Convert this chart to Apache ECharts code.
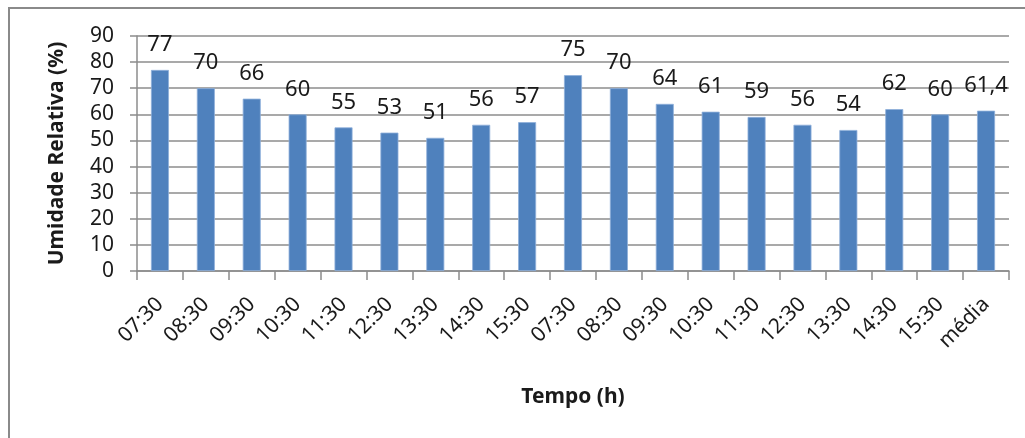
<!DOCTYPE html>
<html>
<head>
<meta charset="utf-8">
<script src="https://cdn.jsdelivr.net/npm/echarts@6/dist/echarts.min.js"></script>
<style>
  html, body { margin: 0; padding: 0; background: #ffffff; overflow: hidden; }
  #wrap { position: relative; width: 1025px; height: 438px; }
  #frame { position: absolute; left: 8px; top: 7px; width: 1100px; height: 500px;
           border-top: 2px solid #8a8a8a; border-left: 2px solid #8a8a8a; }
  #chart { position: absolute; left: 0; top: 0; width: 1025px; height: 438px; }
</style>
</head>
<body>
<div id="wrap">
  <div id="frame"></div>
  <div id="chart"></div>
</div>
<script>
// Hourly readings over two days, plus the overall mean
const categories = ['07:30', '08:30', '09:30', '10:30', '11:30', '12:30', '13:30', '14:30', '15:30',
                    '07:30', '08:30', '09:30', '10:30', '11:30', '12:30', '13:30', '14:30', '15:30', 'média'];
const humidity = [77, 70, 66, 60, 55, 53, 51, 56, 57, 75, 70, 64, 61, 59, 56, 54, 62, 60, 61.4];
const yTicks = { min: 0, max: 90, step: 10 };

const FONT = '"Noto Sans", "Open Sans", sans-serif';
const GRID_GREY = '#8c8c8c';
const TEXT = '#1a1a1a';

const chart = echarts.init(document.getElementById('chart'), null, { renderer: 'canvas' });
chart.setOption({
  animation: false,
  backgroundColor: 'transparent',
  textStyle: { fontFamily: FONT },
  grid: { left: 137, right: 16, top: 36, bottom: 167, containLabel: false },
  xAxis: {
    type: 'category',
    data: categories,
    name: 'Tempo (h)',
    nameLocation: 'middle',
    nameGap: 116,
    nameTextStyle: { fontFamily: FONT, fontSize: 21, fontWeight: 'bold', color: TEXT },
    axisLine: { lineStyle: { color: GRID_GREY, width: 1.5 } },
    axisTick: { show: true, alignWithLabel: false, length: 9, lineStyle: { color: GRID_GREY, width: 1.5 } },
    axisLabel: { rotate: 45, margin: 30, fontSize: 21, color: TEXT, fontFamily: FONT, interval: 0 }
  },
  yAxis: {
    type: 'value',
    min: yTicks.min,
    max: yTicks.max,
    interval: yTicks.step,
    name: 'Umidade Relativa (%)',
    nameLocation: 'middle',
    nameGap: 69,
    nameTextStyle: { fontFamily: FONT, fontSize: 21, fontWeight: 'bold', color: TEXT },
    axisLine: { show: true, lineStyle: { color: GRID_GREY, width: 1.5 } },
    axisTick: { show: true, length: 7, lineStyle: { color: GRID_GREY, width: 1.5 } },
    axisLabel: { margin: 23, fontSize: 21, color: TEXT, fontFamily: FONT },
    splitLine: { show: true, lineStyle: { color: GRID_GREY, width: 1.5 } }
  },
  series: [{
    type: 'bar',
    data: humidity,
    barWidth: 18,
    itemStyle: { color: '#4f81bd', borderColor: '#8fb0da', borderWidth: 0.8 },
    label: {
      show: true,
      position: 'top',
      distance: 14,
      fontSize: 22,
      color: TEXT,
      fontFamily: FONT,
      formatter: p => String(p.value).replace('.', ',')
    }
  }]
});
</script>
</body>
</html>
